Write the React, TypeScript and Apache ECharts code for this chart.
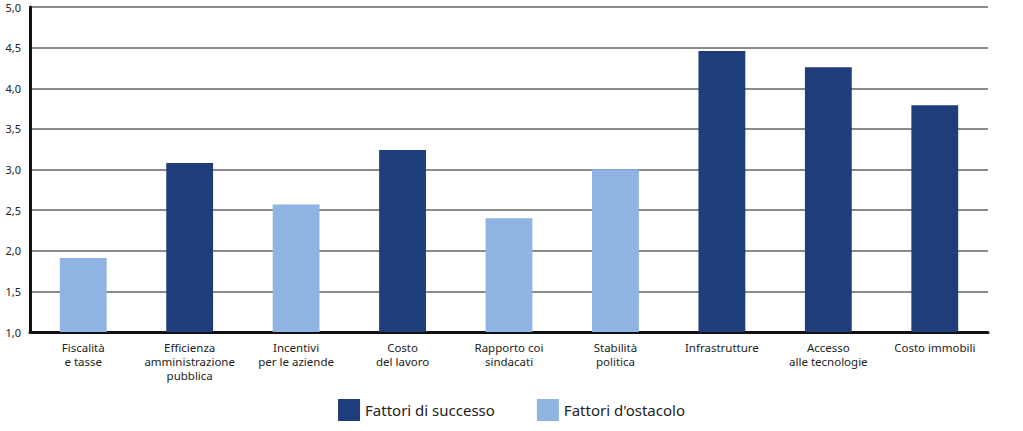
import React, { useEffect, useRef } from "react";
import * as echarts from "echarts";

const categories = [
  "Fiscalità\ne tasse",
  "Efficienza\namministrazione\npubblica",
  "Incentivi\nper le aziende",
  "Costo\ndel lavoro",
  "Rapporto coi\nsindacati",
  "Stabilità\npolitica",
  "Infrastrutture",
  "Accesso\nalle tecnologie",
  "Costo immobili",
];
const successo = [null, 3.08, null, 3.24, null, null, 4.46, 4.26, 3.79];
const ostacolo = [1.91, null, 2.57, null, 2.4, 3.0, null, null, null];
const seriesNames = ["Fattori di successo", "Fattori d'ostacolo"];
const FONT = "'Noto Sans', 'DejaVu Sans', sans-serif";

export default function App() {
  const ref = useRef<HTMLDivElement>(null);
  useEffect(() => {
    const chart = echarts.init(ref.current!, null, { renderer: "svg" });
    chart.setOption({
      animation: false,
      textStyle: { fontFamily: FONT },
      grid: { left: 30, right: 35, top: 7, bottom: 99, containLabel: false },
      legend: {
        bottom: 5,
        left: "center",
        itemWidth: 22,
        itemHeight: 22,
        itemGap: 42,
        icon: "rect",
        textStyle: { fontSize: 15, color: "#222", fontFamily: FONT },
        data: seriesNames,
      },
      xAxis: {
        type: "category",
        data: categories,
        axisLine: { lineStyle: { color: "#111", width: 3 } },
        axisTick: { show: false },
        axisLabel: {
          fontSize: 11.5,
          color: "#222",
          lineHeight: 14,
          margin: 8,
          interval: 0,
          fontFamily: FONT,
        },
      },
      yAxis: {
        type: "value",
        min: 1,
        max: 5,
        interval: 0.5,
        axisLine: { show: true, lineStyle: { color: "#111", width: 3 } },
        axisTick: { show: false },
        splitLine: { lineStyle: { color: "#8a8a8a", width: 2 } },
        axisLabel: {
          fontSize: 11,
          color: "#222",
          margin: 9,
          fontFamily: FONT,
          formatter: (v: number) => v.toFixed(1).replace(".", ","),
        },
      },
      series: [
        {
          name: seriesNames[0],
          type: "bar",
          stack: "s",
          data: successo,
          barWidth: "44%",
          itemStyle: { color: "#1f3d7a" },
        },
        {
          name: seriesNames[1],
          type: "bar",
          stack: "s",
          data: ostacolo,
          barWidth: "44%",
          itemStyle: { color: "#8fb4e3" },
        },
      ],
    });
    return () => chart.dispose();
  }, []);
  return (
    <div
      ref={ref}
      style={{ position: "absolute", left: 0, top: 0, width: 1023, height: 431, background: "#fff" }}
    />
  );
}
